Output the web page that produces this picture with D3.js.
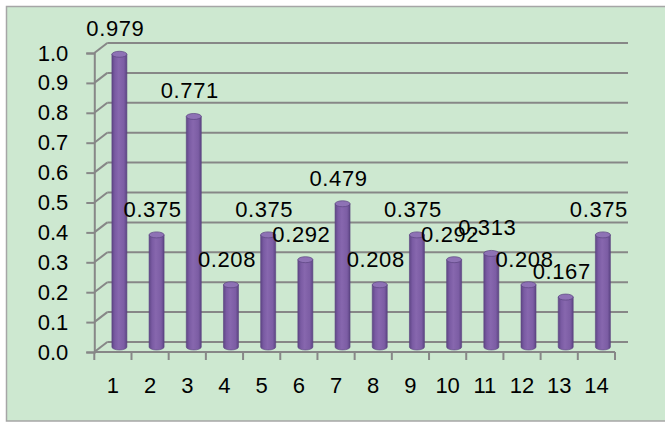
<!DOCTYPE html>
<html>
<head>
<meta charset="utf-8">
<script src="https://cdn.jsdelivr.net/npm/d3@7"></script>
<style>
  body { margin: 0; background: #fff; }
  text { font-family: "Liberation Sans", Arial, sans-serif; fill: #000; }
</style>
</head>
<body>
<div id="chart"></div>
<script>
// categories and values
var categories = ["1", "2", "3", "4", "5", "6", "7", "8", "9", "10", "11", "12", "13", "14"]
var values = [0.979, 0.375, 0.771, 0.208, 0.375, 0.292, 0.479, 0.208, 0.375, 0.292, 0.313, 0.208, 0.167, 0.375]
var yTicks = [0, 0.1, 0.2, 0.3, 0.4, 0.5, 0.6, 0.7, 0.8, 0.9, 1.0]

var width = 665, height = 423

// depth offset of the back wall (fake 3d)
var depthX = 13, depthY = -10
var gridColor = "#878787"

var svg = d3.select("#chart").append("svg")
    .attr("width", width)
    .attr("height", height)

// chart area
svg.append("rect")
    .attr("x", 6.5).attr("y", 6.5)
    .attr("width", 670).attr("height", 414.5)
    .attr("fill", "#cde8d0")
    .attr("stroke", "#a6a6a6")
    .attr("stroke-width", 1.5)

var x = d3.scaleBand().domain(categories).range([94.3, 615])
var y = d3.scaleLinear().domain([0, 1]).range([352, 53])

// gradient for the cylinders
var defs = svg.append("defs")
var grad = defs.append("linearGradient").attr("id", "barGrad")
    .attr("x1", "0%").attr("x2", "100%").attr("y1", "0%").attr("y2", "0%")
grad.append("stop").attr("offset", "0%").attr("stop-color", "#5f4686")
grad.append("stop").attr("offset", "20%").attr("stop-color", "#7a5ba3")
grad.append("stop").attr("offset", "45%").attr("stop-color", "#8767ae")
grad.append("stop").attr("offset", "80%").attr("stop-color", "#7c5da4")
grad.append("stop").attr("offset", "100%").attr("stop-color", "#5c4483")

// back wall gridlines + the slanted part on the side wall
var grid = svg.append("g")
yTicks.forEach(function(v) {
    grid.append("line")
        .attr("x1", x.range()[0] + depthX).attr("x2", x.range()[1] + depthX)
        .attr("y1", y(v) + depthY).attr("y2", y(v) + depthY)
        .attr("stroke", gridColor).attr("stroke-width", 2)
    grid.append("line")
        .attr("x1", x.range()[0]).attr("x2", x.range()[0] + depthX)
        .attr("y1", y(v)).attr("y2", y(v) + depthY)
        .attr("stroke", gridColor).attr("stroke-width", 2)
})

// front y axis
var yAxis = d3.axisLeft(y)
    .tickValues(yTicks)
    .tickFormat(d3.format(".1f"))
    .tickSize(8)
    .tickPadding(18)
var yG = svg.append("g")
    .attr("transform", "translate(" + x.range()[0] + ",0)")
    .call(yAxis)
yG.select(".domain").attr("stroke", gridColor).attr("stroke-width", 2)
yG.selectAll(".tick line").attr("stroke", gridColor).attr("stroke-width", 2)
yG.selectAll(".tick text")
    .style("font-size", "22px")
    .attr("font-family", "Liberation Sans, Arial, sans-serif")

// front x axis: ticks at band edges, labels at band centres
var xG = svg.append("g").attr("transform", "translate(0," + y(0) + ")")
xG.append("line")
    .attr("x1", x.range()[0]).attr("x2", x.range()[1])
    .attr("stroke", gridColor).attr("stroke-width", 2)
var edges = categories.map(function(c) { return x(c) }).concat([x.range()[1]])
xG.selectAll(".xtick").data(edges).enter().append("line")
    .attr("class", "xtick")
    .attr("x1", function(d) { return d }).attr("x2", function(d) { return d })
    .attr("y1", 0).attr("y2", 8)
    .attr("stroke", gridColor).attr("stroke-width", 2)
xG.selectAll(".xlabel").data(categories).enter().append("text")
    .attr("class", "xlabel")
    .attr("x", function(d) { return x(d) + x.bandwidth() / 2 })
    .attr("y", 41)
    .attr("text-anchor", "middle")
    .style("font-size", "22px")
    .text(function(d) { return d })

// cylinders, placed half way into the depth
var barW = 15, ry = 3
var bars = svg.append("g")
values.forEach(function(v, i) {
    var cx = x(categories[i]) + x.bandwidth() / 2 + depthX / 2
    var yTop = y(v) + depthY / 2
    var yBot = y(0) + depthY / 2
    var g = bars.append("g")
    g.append("path")
        .attr("d", "M" + (cx - barW / 2) + "," + yTop +
            " L" + (cx - barW / 2) + "," + yBot +
            " A" + (barW / 2) + "," + ry + " 0 0 0 " + (cx + barW / 2) + "," + yBot +
            " L" + (cx + barW / 2) + "," + yTop + " Z")
        .attr("fill", "url(#barGrad)")
        .attr("stroke", "#5a4380")
        .attr("stroke-width", 0.6)
    g.append("ellipse")
        .attr("cx", cx).attr("cy", yTop)
        .attr("rx", barW / 2).attr("ry", ry)
        .attr("fill", "#8e72b5")
        .attr("stroke", "#5a4380")
        .attr("stroke-width", 0.7)
})

// data labels
svg.append("g").selectAll("text").data(values).enter().append("text")
    .attr("x", function(d, i) { return x(categories[i]) + x.bandwidth() / 2 + depthX / 2 - 4 })
    .attr("y", function(d) { return y(d) + depthY / 2 - 18 })
    .attr("text-anchor", "middle")
    .style("font-size", "22px")
    .style("letter-spacing", "0.6px")
    .text(function(d) { return d3.format(".3f")(d) })
</script>
</body>
</html>
